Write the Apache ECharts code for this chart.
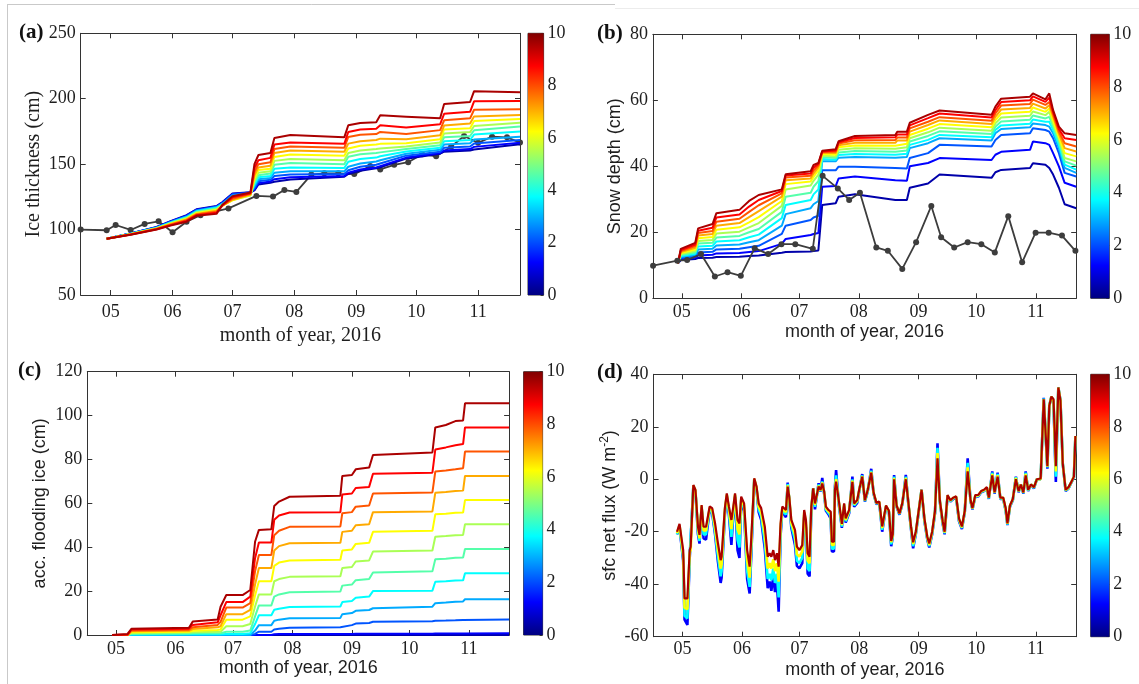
<!DOCTYPE html>
<html><head><meta charset="utf-8">
<script src="https://cdn.jsdelivr.net/npm/echarts@6/dist/echarts.min.js"></script>
<style>html,body{margin:0;padding:0;background:#fff}#c{width:1139px;height:684px}</style>
</head><body><div id="c"></div>
<script>
// ---------------- DATA (day of year 2016 on x) ----------------
const monthTicks = [122, 153, 183, 214, 245, 275, 306];
const monthLabels = ['05', '06', '07', '08', '09', '10', '11'];
const cbTicks = [0, 2, 4, 6, 8, 10];

// (a) ice thickness, 12 ensemble members (k = 0..11), one row per breakpoint day
const aDays = [120,132,145,152,160,165,175,178,183,192,194,196,202,204,212,239,241,247,255,257,270,287,289,302,304,327];
const aRows = [
 [93,93,93,93,93,93,93,93,93,93,93,93],
 [97,97,97,96.9,96.8,96.7,96.6,96.5,96.4,96.3,96.2,96],
 [102,101.8,101.6,101.4,101.2,101,100.9,100.8,100.6,100.4,100.2,100],
 [106.5,106.2,105.9,105.6,105.3,105,104.7,104.4,104.1,103.8,103.4,103],
 [111,110.6,110.2,109.8,109.4,109,108.6,108.2,107.8,107.2,106.6,106],
 [115.5,115.2,114.8,114.4,114,113.5,113,112.5,112,111.5,111,110.5],
 [118,117.7,117.4,117,116.6,116.1,115.5,115,114.4,113.6,112.8,112],
 [121,120.6,120.2,119.8,119.4,119,118.6,118.3,118.2,118.4,118.7,119],
 [127.5,127.2,126.8,126,125,123.8,122.5,122.3,122.8,123.6,124.6,125.5],
 [128.5,128.4,128.2,127.8,127.2,126.6,126,126.3,126.8,127.3,127.8,128.3],
 [130,130.5,131.5,133,134.5,136,137.5,139.5,141.5,144,147,150],
 [134.5,135.5,137,138.5,140,141.5,143.5,145.5,147.5,150,153,157],
 [135.8,136.8,138,139.5,141,142.8,144.5,146.5,148.8,151.5,154.8,158.5],
 [136.5,138.5,141,143.5,146.5,149.5,152.5,155.5,158.5,161.5,165,170],
 [138.3,140,142,144.5,147.5,150.8,154,157.3,160.5,163.5,166.5,172.3],
 [140.4,141,142.5,144.5,147,150,153,156.5,159.5,162.5,165.5,170.5],
 [142.5,143.5,145.4,148,151.8,155.6,158.6,161.9,165.7,170.8,174.6,179.7],
 [145,146,148,150.5,154,157.5,160.5,164,167.5,172.5,176.5,181.5],
 [146.8,147.5,149.5,152,155,158.5,161.5,165,168.5,173,177,182],
 [147.5,148.5,150.5,153,156,159,162,165.5,169.5,174.6,179.7,187.3],
 [154.2,155,156.5,158,159.6,161.5,163.5,166,169,173,178,186.3],
 [158,158.5,159.5,161,162.5,164.5,166.5,169,172,176,180.5,185],
 [159.5,160.5,162.5,165,167.5,170.5,173.5,176.5,179.5,183.5,188.5,196],
 [160.5,161.5,163.5,166,168.5,171.5,174.5,177.5,181,185,190,197.5],
 [161.2,163.2,165.7,168.8,172.6,175.9,179.2,183,186.5,191.6,198,205.8],
 [165.2,166.3,168.5,171,174.9,178.7,181.7,184.5,187.6,191.9,198.3,205]
];
const aObsDays = [107,120,124.5,132,139,146,153,160,167,181,195,203.3,209,215,222.5,229,236,244,252,257,264,271,278,285,292.5,299,306,313,320.5,327];
const aObsVals = [100,99.5,103.5,99.7,104.3,106.3,98,106,111,116.2,125.7,125.2,130.2,128.8,142,143,143,142.4,148.5,146,149.5,151.5,157.6,156,163.3,171.5,166.3,171,170.5,166.5];

// (b) snow depth
const bDays = [120,121.5,129,130.5,138,140,152,157,162,174,176,189,190.5,193,195,202,203.5,212,233,234,239,240.5,250,256,283,285,288,303,304.5,311,313,315,318,321,327];
const bRows = [
 [10.6,10.6,10.6,10.6,10.6,10.6,10.6,10.6,10.6,10.6,10.6,10.6],
 [11.6,11.9,12.2,12.5,12.8,13.1,13.4,13.7,14,14.3,14.6,15],
 [11.9,12.3,12.7,13.1,13.5,13.9,14.3,14.8,15.3,15.8,16.3,16.8],
 [12.2,13,13.9,14.8,15.7,16.6,17.4,18.2,19,19.8,20.5,21.2],
 [12.3,13.2,14.1,15,15.9,16.8,17.7,18.6,19.5,20.4,21.4,22.5],
 [12.5,13.6,14.8,16,17.2,18.4,19.6,20.8,22,23.2,24.5,25.8],
 [12.6,13.7,15,16.3,17.6,18.9,20.2,21.5,22.8,24.1,25.4,26.8],
 [12.8,14,15.5,17,18.5,20,21.5,23,24.6,26.2,27.8,29.5],
 [13,14.3,15.9,17.6,19.3,21,22.8,24.6,26.4,28.2,29.8,31.3],
 [13.8,16.5,19.5,22,24.3,26.2,28,29.5,30.8,31.8,32.5,33],
 [14,18,22,25.5,28.3,30.8,33,34.6,35.8,36.6,37.2,37.6],
 [14.2,19.2,23.7,27.3,29.8,32,34.2,35.4,36.3,37.1,37.8,38.5],
 [14.3,19.5,24.5,28.5,31.5,33.8,35.6,36.8,37.8,38.7,39.6,40.4],
 [14.5,19.8,25,29.5,33,35.5,37.5,38.8,39.7,40.3,40.7,41],
 [28.3,33.8,38.8,41.5,42.2,42.8,43.3,43.7,44,44.3,44.5,44.7],
 [28.8,34,38.8,41.5,42,42.5,43,43.5,44,44.4,44.8,45.2],
 [30.8,36.3,39.9,42.6,43.4,44.2,45,45.8,46.4,46.9,47.3,47.6],
 [31.5,36.9,39.9,42.8,43.7,44.6,45.5,46.3,47.1,47.9,48.6,49.2],
 [29.8,35.8,39.5,42.6,43.5,44.4,45.3,46.2,47.1,48,48.8,49.5],
 [29.8,35.8,39.5,42.8,43.8,44.8,45.8,46.8,47.8,48.7,49.6,50.5],
 [29.8,35.6,39.3,42.8,43.8,44.8,45.8,46.8,47.8,48.7,49.6,50.5],
 [33.5,40,42.5,45.5,46.5,47.5,48.5,49.5,50.5,51.5,52.4,53.2],
 [34.8,41,44,47,48,49.2,50.3,51.4,52.5,53.5,54.6,55.6],
 [37.5,42.5,46.5,48.5,49.5,50.6,51.7,52.8,53.9,54.9,56,56.9],
 [36.5,41.9,46,47.8,48.8,49.8,50.8,51.8,52.8,53.8,54.8,55.6],
 [38.2,43.5,48,50,51,52,53,54,55,56,57,58.1],
 [38.9,44.4,49.5,51.3,52.4,53.6,54.8,56,57.2,58.4,59.5,60.5],
 [39.5,45,50,51.8,52.9,54.1,55.3,56.5,57.7,58.9,60,61.1],
 [40.9,47.5,51.5,53,54.2,55.4,56.6,57.8,59,60.2,61.2,62.1],
 [40.5,47,51,52.5,53.5,54.5,55.5,56.5,57.5,58.6,59.5,60.3],
 [39.5,46.5,50.5,52,53.5,55,56.5,57.5,58.5,59.5,60.8,62.1],
 [37.5,44,48.5,50,51,52,53,54,55,55.8,56.5,57],
 [33.5,40,44,45.5,46.5,47.5,48.5,49,49.8,50.5,51.3,52],
 [28.5,35,38,39.5,40.5,41.5,42.5,44,45.5,47,48.5,50],
 [27.3,33.8,36.9,38,39,40.2,41.5,43,44.5,46,48,49.5]
];
const bObsDays = [107.1,119.7,124.8,132,139.2,145.8,152.7,159.9,166.9,173.8,181,190.1,195.2,203.1,209,214.6,223.1,229.1,236.6,243.8,251.7,256.8,263.6,270.6,277.7,284.7,291.7,298.9,305.9,312.7,319.6,326.6];
const bObsVals = [9.9,11.4,11.6,13.4,6.6,7.9,6.8,15.2,13.4,16.4,16.4,15,37.1,33.3,29.8,32,15.4,14.4,8.9,17,28,18.5,15.4,17,16.4,13.9,24.9,10.9,19.9,19.9,19,14.4];

// (c) accumulated flooding ice
const cDays = [120,128,130,160,162,175,176.5,179.5,188,192,194.5,196.5,203,204.5,207,212.5,239,240,245,247,254,256,287,288.5,294,299,303,304,327];
const cRows = [
 [0,0,0,0,0,0,0,0,0,0,0,0],
 [0,0,0,0,0,0,0,0,0,0,0.2,0.5],
 [0,0,0,0,0.2,0.5,0.9,1.3,1.7,2.1,2.5,2.8],
 [0,0,0,0,0.3,0.7,1.1,1.5,1.9,2.4,2.9,3.3],
 [0,0,0,0,0.3,0.8,1.3,1.9,2.7,3.5,4.6,6.1],
 [0,0,0,0,0.3,0.8,1.5,2.3,3.5,4.6,5.8,7.1],
 [0,0,0,0,0.3,0.8,1.5,2.5,4,6,9,12.9],
 [0,0,0,0,0.5,1.5,4,7,9.5,12.5,15,18.2],
 [0,0,0,0,0.5,1.5,4,7,9.5,12.5,15,18.2],
 [0,0,0,0,0.8,2,5,8.5,11.5,14.5,17.5,20.5],
 [0,0,0.5,2,5,8.5,13,18,23,29,35,42.5],
 [0,0,1.5,4.5,9,13.5,18.5,24.5,30.5,36.5,42.2,47.9],
 [0,0,1.5,4.5,9,13.5,18.5,24.5,30.5,36.5,42.2,48.2],
 [0,0.3,2.5,6.5,11.5,17.5,24.5,31.5,38.5,45.5,52.5,58.8],
 [0,0.4,2.8,7,12,18.5,25.5,33,40.5,47.5,54.5,60.8],
 [0,0.5,3.3,7.6,12.8,19.5,26.5,34,41.8,49.3,55.8,63],
 [0,0.5,3.5,7.8,13,19.8,26.8,34.3,42,49.5,56,63.5],
 [0,0.5,4,9.5,15,22.5,30.5,38.5,47,55.5,64,72.5],
 [0,0.5,4.5,10,15.5,23,31,39,47.5,56,64.5,72.9],
 [0,0.6,5.2,11,17,25,33.5,41.5,50,58.5,67,75.5],
 [0,0.6,5.5,11.4,17.5,25.5,34,42,50.5,59,67.5,76.3],
 [0,0.6,6,12.2,20,28.5,38,47,56,64.5,73.5,82],
 [0,0.6,6.3,12.9,20.2,29,38.5,47.5,56.3,65,74,83.2],
 [0,0.7,6.5,14.5,24.3,34.5,44.8,55,64.8,74.5,84.5,94.6],
 [0,0.7,6.6,14.8,24.5,34.8,45.1,55.3,65.2,75,85.5,95.7],
 [0,0.7,6.7,15.2,24.8,35.2,45.5,55.7,65.6,75.5,86.5,97.5],
 [0,0.7,6.8,15.3,24.9,35.3,45.6,55.8,65.8,76,87,97.8],
 [0,0.8,7.1,16.3,28.1,39.2,50.5,61.5,72.5,83.6,94.6,105.6],
 [0,0.8,7.1,16.3,28.1,39.2,50.5,61.5,72.5,83.6,94.6,105.6]
];

// (d) surface net flux: rows = [day, member k=1, k=4, k=7, k=11]
const dMembers = [1, 4, 7, 11];
const dRows = [
 [119.2,-21,-21,-20.5,-20],[120.5,-18.5,-18,-17.5,-17],[122.4,-31,-30,-29,-27],[123.1,-53.5,-52,-49,-45.4],
 [124.6,-55.5,-53,-49.5,-45.4],[125.8,-30,-29,-28,-27],[126.3,-29.5,-28.5,-27,-25.7],[127.7,-2.8,-2.6,-2.4,-2.2],
 [128.8,-5,-4.6,-4.3,-4.1],[130.1,-21,-20,-19,-18.1],[130.9,-24.5,-23.5,-22.5,-21.2],[132,-11,-10.5,-10,-9.8],
 [133,-22.5,-21,-19.5,-18.1],[134.3,-23,-21,-19.5,-18.1],[136.2,-11.6,-11.2,-10.8,-10.4],[137.5,-13,-12.5,-11.5,-11],
 [139,-21,-20,-18.5,-16.8],[140.5,-31.5,-29.5,-27,-24.4],[141.9,-39.5,-37,-34,-30.8],[142.4,-37.5,-35,-32.5,-29.5],
 [144.1,-13.5,-12.5,-11.8,-11],[145.1,-6.6,-6.2,-5.8,-5.4],[146.2,-13.5,-12.5,-11.5,-10.4],[147.5,-25,-22,-19,-15.5],
 [148.5,-13.5,-12.5,-11.5,-10.4],[149.4,-6.8,-6.2,-5.8,-5.4],[150.7,-27,-23,-19,-15.5],[151.7,-30,-26,-21,-16.8],
 [152.6,-8.5,-7.8,-7.2,-6.6],[153.4,-9,-8.4,-7.8,-7.3],[154.1,-12,-11,-10,-9.2],[155.7,-38,-35,-31,-27],
 [157,-43.5,-41,-37.5,-33.3],[157.9,-28,-26,-24,-21.9],[159.4,-0.3,0,0.2,0.4],[160.6,-4,-3.6,-3.2,-2.8],
 [161.7,-12.5,-11.5,-10.5,-9.2],[163,-15.5,-14,-12.5,-11],[164,-16,-14.5,-13,-11.7],[164.9,-26.5,-24,-21,-18.1],
 [166.4,-41.5,-38,-34,-29.5],[167.4,-39,-36,-32,-28.2],[168.3,-42.5,-38.5,-34,-29.5],[169.3,-37,-34,-30.5,-27],
 [170.2,-43,-39.5,-35,-30.8],[171.2,-39.5,-36,-32,-28.2],[172.1,-50.5,-45,-39,-33.3],[173.1,-21.5,-20,-18.5,-16.8],
 [174,-12,-11.5,-11,-10.4],[175,-12,-11.5,-11,-10.4],[175.9,-14.5,-13.5,-12.5,-11.7],[176.8,-1.3,-1.8,-2.3,-2.8],
 [177.6,-8,-7.5,-7,-6.6],[178.7,-18.5,-17.5,-16.5,-15.5],[179.7,-18,-17,-16,-15.5],[180.6,-25,-23,-21,-19.3],
 [181.6,-33,-31,-28.5,-25.7],[182.9,-34,-32,-29.5,-27],[184.4,-32,-30,-27.5,-25.1],[185.4,-14.5,-13.5,-12.5,-11.7],
 [186.3,-18.5,-17.5,-16.5,-15.5],[187.2,-36,-34,-31,-28.2],[188.2,-37,-35,-32,-29.5],[189.1,-12,-11.5,-11,-10.4],
 [190.1,-3.5,-3.5,-3.5,-3.5],[191,-11.5,-10.5,-9.8,-9.2],[192,-12,-11,-10,-9.2],[192.9,-1.5,-2,-2.5,-2.8],
 [193.9,-4.7,-4.5,-4.3,-4.1],[194.8,0.5,-0.8,-1.2,-1.6],[195.8,-5.6,-5.3,-5,-4.7],[196.7,-12,-11.5,-11,-10.4],
 [198,-13.3,-12.8,-12.2,-11.7],[199.2,-15,-14,-13,-12.3],[199.8,-27.5,-26.5,-25,-23.8],[200.9,-27.5,-26.5,-25,-23.8],
 [201.4,-3,-3.5,-3.8,-4.1],[202,3.5,1.5,0,-0.9],[203.5,-10,-9.5,-9,-8.5],[205,-18.5,-18,-17.5,-17],
 [206.2,-10.5,-10,-9.5,-9.2],[207,-16.5,-16,-15.5,-14.9],[208.8,-13,-12.5,-12,-11.7],[210.5,1,0,-0.5,-1],
 [211.4,-10.5,-10,-9.5,-9.2],[213,-9,-8.5,-8.2,-7.9],[214,-4.8,-4.5,-4.3,-4.1],[215.6,2,1.5,1.2,1],
 [217,-8.5,-8.3,-8.1,-8],[218.5,-4.5,-4.3,-4.1,-4],[220.3,4,3.3,2.8,2.5],[221.5,-5.5,-5.3,-5.1,-5],
 [223,-9.5,-9.3,-9.1,-9],[224.5,-9,-8.8,-8.6,-8.5],[226,-20,-19.3,-18.6,-18],[228,-10.5,-10.3,-10.1,-10],
 [229.5,-12.5,-12.3,-12.1,-12],[230.7,-25.5,-24.8,-24,-23.5],[231.5,-22,-21.6,-21.3,-21],[232.2,1.6,1,0.5,0],
 [233.5,-10.5,-10.3,-10.1,-10],[235,-13.5,-13.3,-13.1,-13],[236.5,-9.5,-9.3,-9.1,-9],[238.3,1.7,1,0.5,0],
 [239.5,-8.5,-8.3,-8.1,-8],[241,-19,-18.6,-18.3,-18],[242.1,-26.3,-25.5,-24.7,-24],[243.5,-21,-20.6,-20.3,-20],
 [245,-12.5,-12.3,-12.1,-12],[246.5,-4,-4,-4,-4],[248,-16,-15.6,-15.3,-15],[249.5,-23,-22.6,-22.3,-22],
 [250.5,-26,-25.5,-25,-24.5],[252,-21,-20.6,-20.3,-20],[253.5,-13,-12.6,-12.3,-12],[254.8,13.7,12,10,8],
 [256,-8.5,-8.3,-8.1,-8],[257.5,-17,-16.6,-16.3,-16],[258.5,-21,-20.6,-20.3,-20],[260,-6.5,-6.3,-6.1,-6],
 [261.5,-8.5,-8.3,-8.1,-8],[263,-7.5,-7.3,-7.1,-7],[264.5,-7,-6.8,-6.6,-6.5],[266,-16,-15.6,-15.3,-15],
 [267.5,-19,-18.6,-18.3,-18],[269,-12.5,-12.3,-12.1,-12],[270.5,8,6.3,4.5,3],[272,-8.5,-8.3,-8.1,-8],
 [273,-11.5,-11.3,-11.1,-11],[274.5,-6.5,-6.3,-6.1,-6],[276,-6.6,-6.4,-6.2,-6],[277.5,-5,-4.8,-4.6,-4.5],
 [279,-4.5,-4.4,-4.2,-4],[280.5,-3.5,-3.4,-3.2,-3],[281.5,-7.5,-7.3,-7.1,-7],[283.3,3,2.5,2,1.5],
 [284.5,-5.5,-5.3,-5.1,-5],[286.1,2.5,2,1.5,1],[287.5,-7.5,-7.3,-7.1,-7],[289,-7.5,-7.3,-7.1,-7],
 [290.3,-12,-11.8,-11.5,-11],[291.2,-17.5,-17.3,-17,-16.8],[292.5,-10.5,-10.3,-10.1,-10],[294,-8,-7.8,-7.6,-7.5],
 [295.6,1,0.8,0.5,0],[297,-5,-4.8,-4.6,-4.5],[298.2,-2,-2,-2,-2],[299.5,-5.5,-5.3,-5.1,-5],
 [300.7,3,2.5,2,1.5],[302,-4.5,-4.3,-4.1,-4],[303.5,-2,-2,-2,-2],[305,-3.5,-3.3,-3.1,-3],
 [306.5,0,0,0,0],[308.5,0,0,0,0.3],[310.1,31,30.8,30.6,30.5],[312,4,4.5,4.8,5],
 [313,28,28,28,28],[314.1,31.5,31.5,31.5,31.5],[315.2,29,29.5,30,30.5],[316.4,-1,1,3,5],
 [317.7,35,35,35,35],[318.8,30,30,30,30],[320,6,6,6,6],[321.5,-4.5,-4.3,-4.1,-4],
 [323,-3.5,-3.4,-3.2,-3],[324.5,-1.2,-1.1,-1,-1],[325.8,0.5,0.8,1,1],[326.6,16.5,16.5,16.5,16.5]
];

// ---------------- RENDERING ----------------
const SERIF = '"Liberation Serif","Times New Roman",serif';
const SANS = '"Liberation Sans",Arial,sans-serif';
const INK = '#1e1e1e';
const AX = '#333333';

// MATLAB-style jet(m) colormap, entry k (0-based)
function jetM(m, k) {
  const n = Math.ceil(m / 4);
  const u = [];
  for (let i = 1; i <= n; i++) u.push(i / n);
  for (let i = 1; i < n; i++) u.push(1);
  for (let i = n; i >= 1; i--) u.push(i / n);
  const g0 = Math.ceil(n / 2) - (m % 4 === 1 ? 1 : 0);
  const row = k + 1;
  const pick = off => { const idx = row - (g0 + off) - 1; return (idx >= 0 && idx < u.length) ? u[idx] : 0; };
  const r = pick(n), g = pick(0), b = pick(-n);
  return 'rgb(' + Math.round(r * 255) + ',' + Math.round(g * 255) + ',' + Math.round(b * 255) + ')';
}
const memberColor = k => jetM(12, k);

const layout = [
  {plot:{left:80.7,top:33.3,width:439.3,height:261.7}, cb:{left:528,top:33.3,width:15.6,height:261.7},
   yr:[50,250,50], xName:'month of year, 2016', nameFont:SERIF, nameSize:20, xGap:31,
   yName:'Ice thickness (cm)', yGap:36, xLabMargin:8},
  {plot:{left:652.9,top:34.3,width:423.3,height:264}, cb:{left:1090.7,top:34.3,width:18.6,height:264},
   yr:[0,80,20], xName:'month of year, 2016', nameFont:SANS, nameSize:18, xGap:25,
   yName:'Snow depth (cm)', yGap:27, xLabMargin:5},
  {plot:{left:87.3,top:371.7,width:421.8,height:263.3}, cb:{left:523.6,top:371.7,width:19,height:263.3},
   yr:[0,120,20], xName:'month of year, 2016', nameFont:SANS, nameSize:18, xGap:23,
   yName:'acc. flooding ice (cm)', yGap:36, xLabMargin:5},
  {plot:{left:653.6,top:374.3,width:422.6,height:262.4}, cb:{left:1090.7,top:374.3,width:18.6,height:262.4},
   yr:[-60,40,20], xName:'month of year, 2016', nameFont:SANS, nameSize:18, xGap:24,
   yName:'sfc net flux (W m{sup|-2})', yGap:30, xLabMargin:4}
];

const grid = [], xAxis = [], yAxis = [], series = [];
const cbGradient = () => new echarts.graphic.LinearGradient(0, 0, 0, 1, [
  {offset:0, color:'rgb(128,0,0)'}, {offset:0.125, color:'rgb(255,0,0)'},
  {offset:0.375, color:'rgb(255,255,0)'}, {offset:0.625, color:'rgb(0,255,255)'},
  {offset:0.875, color:'rgb(0,0,255)'}, {offset:1, color:'rgb(0,0,128)'}]);

layout.forEach((L, i) => {
  const gp = grid.length;
  grid.push(Object.assign({show:false}, L.plot));
  grid.push(Object.assign({show:true, borderColor:AX, borderWidth:1, backgroundColor:'transparent'}, L.cb));
  const xb = xAxis.length;
  const labelMap = {};
  monthTicks.forEach((d, j) => labelMap[d] = monthLabels[j]);
  xAxis.push({gridIndex:gp, type:'value', min:107, max:327, position:'bottom',
    axisLine:{show:true, onZero:false, lineStyle:{color:AX, width:1}},
    axisTick:{show:true, inside:true, length:5, customValues:monthTicks, lineStyle:{color:AX}},
    axisLabel:{show:true, customValues:monthTicks, formatter:v => labelMap[Math.round(v)] || '',
      fontFamily:SERIF, fontSize:18, color:INK, margin:L.xLabMargin},
    splitLine:{show:false},
    name:L.xName, nameLocation:'middle', nameGap:L.xGap,
    nameTextStyle:{fontFamily:L.nameFont, fontSize:L.nameSize, color:INK, verticalAlign:'top'}});
  xAxis.push({gridIndex:gp, type:'value', min:107, max:327, position:'top',
    axisLine:{show:true, onZero:false, lineStyle:{color:AX, width:1}},
    axisTick:{show:true, inside:true, length:5, customValues:monthTicks, lineStyle:{color:AX}},
    axisLabel:{show:false}, splitLine:{show:false}});
  xAxis.push({gridIndex:gp + 1, type:'category', data:['cb'], show:false});
  const yb = yAxis.length;
  yAxis.push({gridIndex:gp, type:'value', min:L.yr[0], max:L.yr[1], interval:L.yr[2], position:'left',
    axisLine:{show:true, onZero:false, lineStyle:{color:AX, width:1}},
    axisTick:{show:true, inside:true, length:5, lineStyle:{color:AX}},
    axisLabel:{fontFamily:SERIF, fontSize:18, color:INK, margin:5},
    splitLine:{show:false},
    name:L.yName, nameLocation:'middle', nameGap:L.yGap, nameRotate:90,
    nameTextStyle:{fontFamily:L.nameFont, fontSize:L.nameSize, color:INK, verticalAlign:'bottom', lineHeight:22,
      rich:{sup:{fontFamily:L.nameFont, fontSize:12, color:INK, verticalAlign:'top', lineHeight:12}}}});
  yAxis.push({gridIndex:gp, type:'value', min:L.yr[0], max:L.yr[1], interval:L.yr[2], position:'right',
    axisLine:{show:true, onZero:false, lineStyle:{color:AX, width:1}},
    axisTick:{show:true, inside:true, length:5, lineStyle:{color:AX}},
    axisLabel:{show:false}, splitLine:{show:false}});
  yAxis.push({gridIndex:gp + 1, type:'value', min:0, max:10, interval:2, position:'right',
    axisLine:{show:false}, axisTick:{show:true, inside:true, length:3, lineStyle:{color:AX}},
    axisLabel:{fontFamily:SERIF, fontSize:18, color:INK, margin:4}, splitLine:{show:false}});
  series.push({type:'bar', xAxisIndex:xb + 2, yAxisIndex:yb + 2, data:[10], barWidth:'100%',
    itemStyle:{color:cbGradient()}, silent:true, animation:false});
  L.xi = xb; L.yi = yb;
});

function ensemble(L, days, rows) {
  for (let k = 0; k < 12; k++) {
    series.push({type:'line', xAxisIndex:L.xi, yAxisIndex:L.yi, showSymbol:false, symbol:'none',
      data:days.map((d, j) => [d, rows[j][k]]),
      lineStyle:{color:memberColor(k), width:2}, itemStyle:{color:memberColor(k)}, z:2, silent:true});
  }
}
function obs(L, days, vals, z) {
  series.push({type:'line', xAxisIndex:L.xi, yAxisIndex:L.yi, data:days.map((d, j) => [d, vals[j]]),
    symbol:'circle', symbolSize:6, showSymbol:true,
    lineStyle:{color:'#3d3d3d', width:1.8}, itemStyle:{color:'#3d3d3d'}, z:z, silent:true});
}

obs(layout[0], aObsDays, aObsVals, 1);
ensemble(layout[0], aDays, aRows);
ensemble(layout[1], bDays, bRows);
obs(layout[1], bObsDays, bObsVals, 3);
ensemble(layout[2], cDays, cRows);
dMembers.forEach((k, m) => {
  series.push({type:'line', xAxisIndex:layout[3].xi, yAxisIndex:layout[3].yi, showSymbol:false, symbol:'none',
    data:dRows.map(r => [r[0], r[m + 1]]),
    lineStyle:{color:memberColor(k), width:k === 11 ? 2.2 : 2.6}, z:2, silent:true});
});

const graphic = [
  {type:'line', shape:{x1:7.5, y1:4, x2:7.5, y2:684}, style:{stroke:'#c9c9c9', lineWidth:1}, silent:true},
  {type:'line', shape:{x1:7.5, y1:4.5, x2:615, y2:4.5}, style:{stroke:'#c9c9c9', lineWidth:1}, silent:true},
  {type:'line', shape:{x1:615, y1:8.5, x2:1139, y2:8.5}, style:{stroke:'#ececec', lineWidth:1}, silent:true},
  {type:'text', left:19, top:22, style:{text:'(a)', font:'bold 21px ' + SERIF, fill:'#111'}},
  {type:'text', left:597, top:23, style:{text:'(b)', font:'bold 21px ' + SERIF, fill:'#111'}},
  {type:'text', left:18, top:360, style:{text:'(c)', font:'bold 21px ' + SERIF, fill:'#111'}},
  {type:'text', left:597, top:362, style:{text:'(d)', font:'bold 21px ' + SERIF, fill:'#111'}}
];

const chart = echarts.init(document.getElementById('c'), null, {renderer:'canvas'});
chart.setOption({animation:false, backgroundColor:'#ffffff', grid, xAxis, yAxis, series, graphic});
</script>
</body></html>
